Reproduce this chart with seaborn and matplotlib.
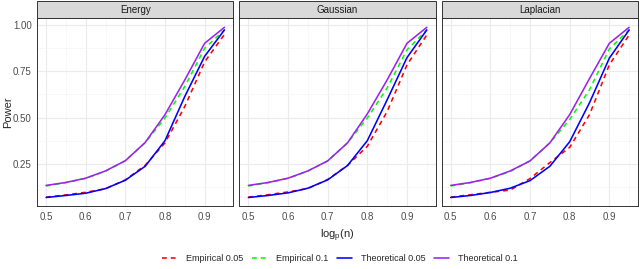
import numpy as np
import pandas as pd
import matplotlib
matplotlib.use('Agg')
import matplotlib.pyplot as plt
import seaborn as sns
from matplotlib.patches import Rectangle
from matplotlib.lines import Line2D

# values
log_n = [0.50, 0.55, 0.60, 0.65, 0.70, 0.75, 0.80, 0.85, 0.90, 0.95]
kernels = ['Energy', 'Gaussian', 'Laplacian']
series = ['Empirical 0.05', 'Empirical 0.1', 'Theoretical 0.05', 'Theoretical 0.1']

energy_emp05 = [0.072, 0.084, 0.098, 0.117, 0.165, 0.243, 0.364, 0.560, 0.800, 0.948]
energy_emp10 = [0.132, 0.150, 0.173, 0.212, 0.268, 0.365, 0.498, 0.668, 0.873, 0.972]
energy_th05 = [0.070, 0.081, 0.093, 0.118, 0.163, 0.238, 0.376, 0.614, 0.830, 0.972]
energy_th10 = [0.135, 0.151, 0.174, 0.213, 0.268, 0.366, 0.516, 0.703, 0.900, 0.986]

gauss_emp05 = [0.072, 0.085, 0.100, 0.118, 0.167, 0.243, 0.346, 0.533, 0.784, 0.945]
gauss_emp10 = [0.132, 0.150, 0.173, 0.212, 0.267, 0.364, 0.498, 0.660, 0.865, 0.972]
gauss_th05 = [0.070, 0.081, 0.095, 0.120, 0.165, 0.242, 0.376, 0.596, 0.823, 0.972]
gauss_th10 = [0.135, 0.151, 0.174, 0.213, 0.267, 0.364, 0.520, 0.703, 0.900, 0.986]

lap_emp05 = [0.072, 0.085, 0.098, 0.110, 0.172, 0.258, 0.340, 0.516, 0.784, 0.945]
lap_emp10 = [0.132, 0.150, 0.173, 0.210, 0.267, 0.364, 0.490, 0.650, 0.870, 0.972]
lap_th05 = [0.070, 0.081, 0.097, 0.120, 0.161, 0.238, 0.370, 0.580, 0.820, 0.972]
lap_th10 = [0.135, 0.151, 0.174, 0.213, 0.267, 0.364, 0.516, 0.710, 0.900, 0.986]

values = {
    'Energy': [energy_emp05, energy_emp10, energy_th05, energy_th10],
    'Gaussian': [gauss_emp05, gauss_emp10, gauss_th05, gauss_th10],
    'Laplacian': [lap_emp05, lap_emp10, lap_th05, lap_th10],
}

rows = []
for k in kernels:
    for s, vals in zip(series, values[k]):
        for x, v in zip(log_n, vals):
            rows.append({'Kernel': k, 'Type': s, 'x': x, 'Power': v})
df = pd.DataFrame(rows)

palette = {'Empirical 0.05': '#FF0000', 'Empirical 0.1': '#00FF00',
           'Theoretical 0.05': '#0000FF', 'Theoretical 0.1': '#A020F0'}
dashes = {'Empirical 0.05': (3, 2.5), 'Empirical 0.1': (3, 2.5),
          'Theoretical 0.05': '', 'Theoretical 0.1': ''}

sns.set_style('white')
plt.rcParams['font.family'] = ['Liberation Sans', 'DejaVu Sans']

g = sns.relplot(data=df, x='x', y='Power', col='Kernel', hue='Type', style='Type',
                kind='line', palette=palette, dashes=dashes, hue_order=series,
                legend=False, height=2.0, aspect=1.0, linewidth=1.15,
                facet_kws={'sharex': True, 'sharey': True})
fig = g.figure
fig.set_size_inches(6.4, 2.69)
fig.subplots_adjust(left=0.058, right=0.997, top=0.933, bottom=0.234, wspace=0.031)

for ax, k in zip(g.axes.flat, kernels):
    ax.set_xlim(0.4775, 0.9725)
    ax.set_ylim(0.024, 1.036)
    ax.set_xticks([0.5, 0.6, 0.7, 0.8, 0.9])
    ax.set_xticks([0.55, 0.65, 0.75, 0.85, 0.95], minor=True)
    ax.set_yticks([0.25, 0.5, 0.75, 1.0])
    ax.set_yticks([0.125, 0.375, 0.625, 0.875], minor=True)
    ax.set_xticklabels(['0.5', '0.6', '0.7', '0.8', '0.9'])
    ax.set_yticklabels(['0.25', '0.50', '0.75', '1.00'])
    ax.grid(True, which='major', color='#EBEBEB', linewidth=0.8)
    ax.grid(True, which='minor', color='#F5F5F5', linewidth=0.5)
    ax.set_axisbelow(True)
    for sp in ax.spines.values():
        sp.set_visible(True)
        sp.set_color('#333333')
        sp.set_linewidth(0.7)
    ax.tick_params(which='major', direction='out', length=2.5, width=0.6,
                   color='#333333', labelsize=7, labelcolor='#4D4D4D', pad=1.5)
    ax.tick_params(which='minor', length=0)
    ax.set_title('')
    ax.set_xlabel('')
    ax.set_ylabel('')
    ax.add_patch(Rectangle((0, 1.0), 1, 0.09, transform=ax.transAxes, clip_on=False,
                           facecolor='#D9D9D9', edgecolor='#333333', linewidth=0.7))
    ax.text(0.5, 1.045, k, transform=ax.transAxes, ha='center', va='center',
            fontsize=7, color='#1A1A1A')

fig.text(0.012, 0.584, 'Power', rotation=90, ha='center', va='center', fontsize=8)
fig.text(0.527, 0.125, r'$\mathregular{log_p(n)}$', ha='center', va='center', fontsize=8)

handles = [Line2D([], [], color=palette[s], linewidth=1.15,
                  linestyle=(0, (3, 2.5)) if s.startswith('Emp') else '-') for s in series]
fig.legend(handles, series, loc='center', bbox_to_anchor=(0.531, 0.04), ncol=4,
           frameon=False, fontsize=6.5, handlelength=1.7, columnspacing=0.9,
           handletextpad=1.0)

fig.savefig('out.png', dpi=100)
